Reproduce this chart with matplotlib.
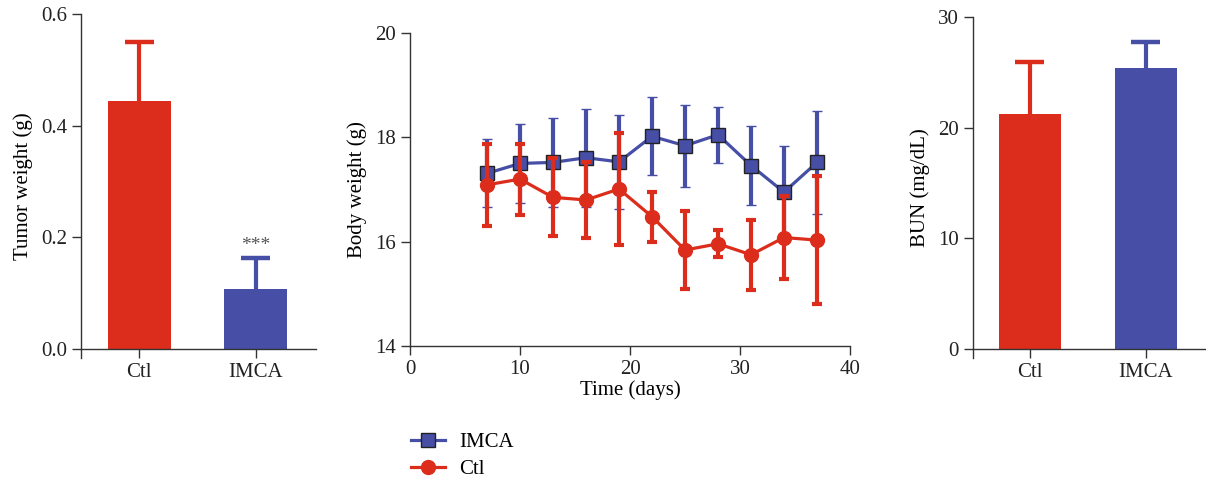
import numpy as np
import matplotlib
matplotlib.use("Agg")
import matplotlib.pyplot as plt
from matplotlib.lines import Line2D

plt.rcParams['font.family'] = ['Liberation Serif', 'DejaVu Serif']
plt.rcParams['font.size'] = 15

RED = '#DC2D1C'
BLUE = '#464EA6'
AX = '#333333'

groups = ['Ctl', 'IMCA']
tumor_mean = [0.444, 0.107]
tumor_err = [0.105, 0.056]

days = [7, 10, 13, 16, 19, 22, 25, 28, 31, 34, 37]
imca_bw = [17.31, 17.50, 17.52, 17.61, 17.53, 18.02, 17.84, 18.05, 17.46, 16.95, 17.52]
imca_err = [0.65, 0.75, 0.85, 0.94, 0.90, 0.75, 0.79, 0.54, 0.75, 0.88, 0.99]
ctl_bw = [17.09, 17.20, 16.85, 16.80, 17.01, 16.48, 15.84, 15.96, 15.75, 16.08, 16.03]
ctl_err = [0.78, 0.68, 0.75, 0.73, 1.07, 0.48, 0.75, 0.26, 0.67, 0.79, 1.23]

bun_mean = [21.2, 25.4]
bun_err = [4.75, 2.3]


def style_axes(ax):
    for s in ['top', 'right']:
        ax.spines[s].set_visible(False)
    for s in ['left', 'bottom']:
        ax.spines[s].set_color(AX)
        ax.spines[s].set_linewidth(1.0)
    ax.tick_params(direction='out', length=6.5, width=1.0, color=AX, labelcolor='#222222')


def bar_panel(ax, means, errs, ylim, yticks, ylabel, fmt):
    x = np.arange(len(groups))
    cols = [RED, BLUE]
    ax.bar(x, means, width=0.54, color=cols, zorder=2)
    tops = np.array(means) + np.array(errs)
    # one-sided error bars (up only), cap at the top
    ax.vlines(x, means, tops, colors=cols, lw=3, zorder=1)
    ax.hlines(tops, x - 0.125, x + 0.125, colors=cols, lw=3.2, zorder=1)
    style_axes(ax)
    ax.spines['bottom'].set_position(('data', 0))
    ax.set_ylim(*ylim)
    ax.set_yticks(yticks)
    ax.set_yticklabels([fmt.format(v) for v in yticks])
    ax.set_xticks(x)
    ax.set_xticklabels(groups)
    ax.set_xlim(-0.5, 1.52)
    ax.set_ylabel(ylabel, labelpad=6)


fig = plt.figure(figsize=(12.06, 4.83), dpi=100)

ax1 = fig.add_axes([0.0672, 0.2588, 0.1949, 0.7122])
bar_panel(ax1, tumor_mean, tumor_err, (-0.016, 0.6), [0.0, 0.2, 0.4, 0.6],
          'Tumor weight (g)', '{:.1f}')
ax1.text(1, tumor_mean[1] + tumor_err[1] + 0.008, '***', ha='center', va='bottom',
         color='#555555', fontsize=14)

ax2 = fig.add_axes([0.34, 0.2836, 0.3648, 0.648])
ax2.errorbar(days, imca_bw, yerr=imca_err, color=BLUE, lw=2.3, elinewidth=3,
             capsize=3.5, capthick=3, marker='s', markersize=10.5,
             markerfacecolor=BLUE, markeredgecolor='#222222', markeredgewidth=1,
             zorder=2)
ax2.errorbar(days, ctl_bw, yerr=ctl_err, color=RED, lw=2.3, elinewidth=3,
             capsize=3.5, capthick=3, marker='o', markersize=10,
             markerfacecolor=RED, markeredgecolor=RED, zorder=3)
style_axes(ax2)
ax2.set_xlim(0, 40)
ax2.set_ylim(14, 20)
ax2.set_xticks([0, 10, 20, 30, 40])
ax2.set_yticks([14, 16, 18, 20])
ax2.set_xlabel('Time (days)', labelpad=1)
ax2.set_ylabel('Body weight (g)', labelpad=6)

handles = [
    Line2D([], [], color=BLUE, lw=2.3, marker='s', markersize=10,
           markerfacecolor=BLUE, markeredgecolor='#222222', markeredgewidth=1),
    Line2D([], [], color=RED, lw=2.3, marker='o', markersize=10,
           markerfacecolor=RED, markeredgecolor=RED),
]
fig.legend(handles, ['IMCA', 'Ctl'], loc='upper left', bbox_to_anchor=(0.341, 0.104),
           frameon=False, handlelength=1.6, handletextpad=0.7, labelspacing=0.35,
           borderaxespad=0, borderpad=0)

ax3 = fig.add_axes([0.8068, 0.2588, 0.1924, 0.706])
bar_panel(ax3, bun_mean, bun_err, (-0.81, 30), [0, 10, 20, 30],
          'BUN (mg/dL)', '{:d}')
ax3.set_xlim(-0.49, 1.51)

fig.savefig('out.png', dpi=100)
